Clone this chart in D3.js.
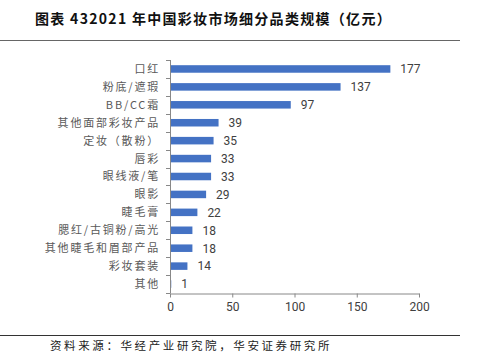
<!DOCTYPE html>
<html><head><meta charset="utf-8">
<script src="https://cdn.jsdelivr.net/npm/d3@7"></script>
<style>body{margin:0;background:#fff}svg{display:block}</style>
</head><body>
<script>
const categories = ["口红","粉底/遮瑕","BB/CC霜","其他面部彩妆产品","定妆（散粉）","唇彩","眼线液/笔","眼影","睫毛膏","腮红/古铜粉/高光","其他睫毛和眉部产品","彩妆套装","其他"];
const values = [177,137,97,39,35,33,33,29,22,18,18,14,1];
const xTicks = [0,50,100,150,200];
const title = "图表 432021 年中国彩妆市场细分品类规模（亿元）";
const source = "资料来源：华经产业研究院，华安证券研究所";

const W=478,H=353;
const svg=d3.select("body").append("svg").attr("width",W).attr("height",H);
const x=d3.scaleLinear().domain([0,200]).range([170,419]);
const y=d3.scaleBand().domain(categories).range([60,293]).paddingInner(0.58).paddingOuter(0.29);
const cjk='"Noto Sans CJK SC","Noto Sans",sans-serif';
const num="Roboto,'Liberation Sans',Arial,sans-serif";

svg.append("text").attr("x",35).attr("y",24).text(title)
  .attr("font-family",cjk).attr("font-size",14).attr("font-weight","bold").attr("fill","#111")
  .attr("letter-spacing",1.3);
svg.append("line").attr("x1",0).attr("x2",460).attr("y1",40.5).attr("y2",40.5).attr("stroke","#666").attr("stroke-width",1);
svg.append("line").attr("x1",0).attr("x2",460).attr("y1",335.5).attr("y2",335.5).attr("stroke","#333").attr("stroke-width",1);
svg.append("text").attr("x",50).attr("y",349.5).text(source)
  .attr("font-family",cjk).attr("font-size",11.5).attr("fill","#222").attr("letter-spacing",2.6);

svg.selectAll("rect.bar").data(categories).join("rect").attr("class","bar")
  .attr("x",x(0)).attr("y",d=>y(d)).attr("height",y.bandwidth())
  .attr("width",(d,i)=>x(values[i])-x(0)).attr("fill","#4472C4");

svg.selectAll("text.val").data(categories).join("text").attr("class","val")
  .attr("x",(d,i)=>x(values[i])+10).attr("y",d=>y(d)+y.bandwidth()/2).attr("dy","0.36em")
  .text((d,i)=>values[i]).attr("font-family",num)
  .attr("font-size",12).attr("fill","#404040");

// left axis with ticks at band boundaries
const g=svg.append("g");
g.append("line").attr("x1",170.5).attr("x2",170.5).attr("y1",60).attr("y2",293).attr("stroke","#888");
const bounds=d3.range(categories.length+1).map(i=>60+i*(233/categories.length));
g.selectAll("line.t").data(bounds).join("line").attr("class","t")
  .attr("x1",166).attr("x2",170.5).attr("y1",d=>Math.round(d)+0.5).attr("y2",d=>Math.round(d)+0.5).attr("stroke","#888");
g.selectAll("text.cat").data(categories).join("text").attr("class","cat")
  .attr("x",160).attr("y",d=>y(d)+y.bandwidth()/2).attr("dy","0.36em").attr("text-anchor","end")
  .text(d=>d).attr("font-family",cjk).attr("font-size",11).attr("fill","#595959")
  .attr("letter-spacing",1.8);

// bottom axis
const xa=svg.append("g").attr("transform","translate(0,293.5)")
  .call(d3.axisBottom(x).tickValues(xTicks).tickSize(4).tickSizeOuter(0));
xa.select(".domain").attr("stroke","#888");
xa.selectAll(".tick line").attr("stroke","#888");
xa.selectAll(".tick text").attr("font-family",num).attr("font-size",12).attr("fill","#404040").attr("dy","0.9em");
</script>
</body></html>
